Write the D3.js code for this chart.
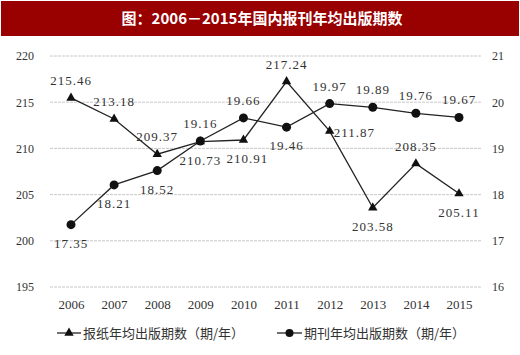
<!DOCTYPE html>
<html><head><meta charset="utf-8">
<script src="https://cdn.jsdelivr.net/npm/d3@7"></script>
<style>body{margin:0;background:#fff;}svg{display:block;}</style>
</head><body>
<script>
const years = ["2006","2007","2008","2009","2010","2011","2012","2013","2014","2015"];
const newspaper = [215.46,213.18,209.37,210.73,210.91,217.24,211.87,203.58,208.35,205.11];
const periodical = [17.35,18.21,18.52,19.16,19.66,19.46,19.97,19.89,19.76,19.67];
const leftTicks = [195,200,205,210,215,220];
const rightTicks = [16,17,18,19,20,21];
// label placement: "a" above, "b" below, "r" right
const newsPos = ["a","a","a","b","b","a","r","b","a","b"];
const perPos  = ["b","b","b","a","a","b","a","a","a","a"];
const title = "图：2006－2015年国内报刊年均出版期数";
const legendNames = ["报纸年均出版期数（期/年）","期刊年均出版期数（期/年）"];

const W=520,H=355;
const svg=d3.select("body").append("svg").attr("width",W).attr("height",H);
const serif="'Liberation Serif','DejaVu Serif',serif";
const cjk="'Noto Sans CJK SC','Noto Sans',sans-serif";

svg.append("rect").attr("x",1).attr("y",1).attr("width",518).attr("height",35).attr("fill","#990000");
svg.append("text").attr("x",262).attr("y",24).attr("text-anchor","middle").attr("fill","#fff")
  .attr("font-family",cjk).attr("font-weight","bold").attr("font-size",15).text(title);

const x=d3.scalePoint().domain(years).range([71,459]);
const yL=d3.scaleLinear().domain([195,220]).range([287,56]);
const yR=d3.scaleLinear().domain([16,21]).range([287,56]);

// grid
svg.append("g").selectAll("line").data(leftTicks).join("line")
  .attr("x1",50).attr("x2",482).attr("y1",d=>yL(d)).attr("y2",d=>yL(d))
  .attr("stroke","#c8c8c8").attr("stroke-width",1).attr("stroke-dasharray","3,1");

const axL=svg.append("g").attr("transform","translate(34,0)").call(d3.axisLeft(yL).tickValues(leftTicks).tickFormat(d3.format("d")).tickSize(0).tickPadding(0));
const axR=svg.append("g").attr("transform","translate(492,0)").call(d3.axisRight(yR).tickValues(rightTicks).tickFormat(d3.format("d")).tickSize(0).tickPadding(0));
const axB=svg.append("g").attr("transform","translate(0,300)").call(d3.axisBottom(x).tickSize(0).tickPadding(0));
[axL,axR,axB].forEach(a=>{a.select(".domain").remove();a.selectAll("text").attr("font-family",serif).attr("font-size",12).attr("fill","#333");});
axB.selectAll("text").attr("font-size",13);

const lineN=d3.line().x((d,i)=>x(years[i])).y(d=>yL(d));
const lineP=d3.line().x((d,i)=>x(years[i])).y(d=>yR(d));
svg.append("path").datum(newspaper).attr("d",lineN).attr("fill","none").attr("stroke","#222").attr("stroke-width",1.3);
svg.append("path").datum(periodical).attr("d",lineP).attr("fill","none").attr("stroke","#222").attr("stroke-width",1.3);

const tri=d3.symbol().type(d3.symbolTriangle).size(38);
svg.append("g").selectAll("path").data(newspaper).join("path")
  .attr("d",tri).attr("transform",(d,i)=>`translate(${x(years[i])},${yL(d)})`).attr("fill","#111");
svg.append("g").selectAll("circle").data(periodical).join("circle")
  .attr("cx",(d,i)=>x(years[i])).attr("cy",d=>yR(d)).attr("r",4.5).attr("fill","#111");

function lbl(data,scale,pos){
  svg.append("g").selectAll("text").data(data).join("text")
    .attr("font-family",serif).attr("font-size",13).attr("fill","#333")
    .attr("letter-spacing",1)
    .attr("text-anchor",(d,i)=>pos[i]==="r"?"start":"middle")
    .attr("x",(d,i)=>x(years[i])+(pos[i]==="r"?4:(pos[i]==="b"&&i===4&&scale===yL?4:0)))
    .attr("y",(d,i)=>scale(d)+(pos[i]==="a"?-13:pos[i]==="b"?23:6))
    .text(d=>d.toFixed(2));
}
lbl(newspaper,yL,newsPos);
lbl(periodical,yR,perPos);

// legend
const lg=svg.append("g");
lg.append("line").attr("x1",57).attr("x2",81).attr("y1",333).attr("y2",333).attr("stroke","#222").attr("stroke-width",1.3);
lg.append("path").attr("d",tri).attr("transform","translate(69,333)").attr("fill","#111");
lg.append("text").attr("x",83).attr("y",338).attr("font-family",cjk).attr("font-size",13).attr("fill","#333").text(legendNames[0]);
lg.append("line").attr("x1",277).attr("x2",302).attr("y1",333).attr("y2",333).attr("stroke","#222").attr("stroke-width",1.3);
lg.append("circle").attr("cx",289.5).attr("cy",333).attr("r",4).attr("fill","#111");
lg.append("text").attr("x",304).attr("y",338).attr("font-family",cjk).attr("font-size",13).attr("fill","#333").text(legendNames[1]);
</script>
</body></html>
